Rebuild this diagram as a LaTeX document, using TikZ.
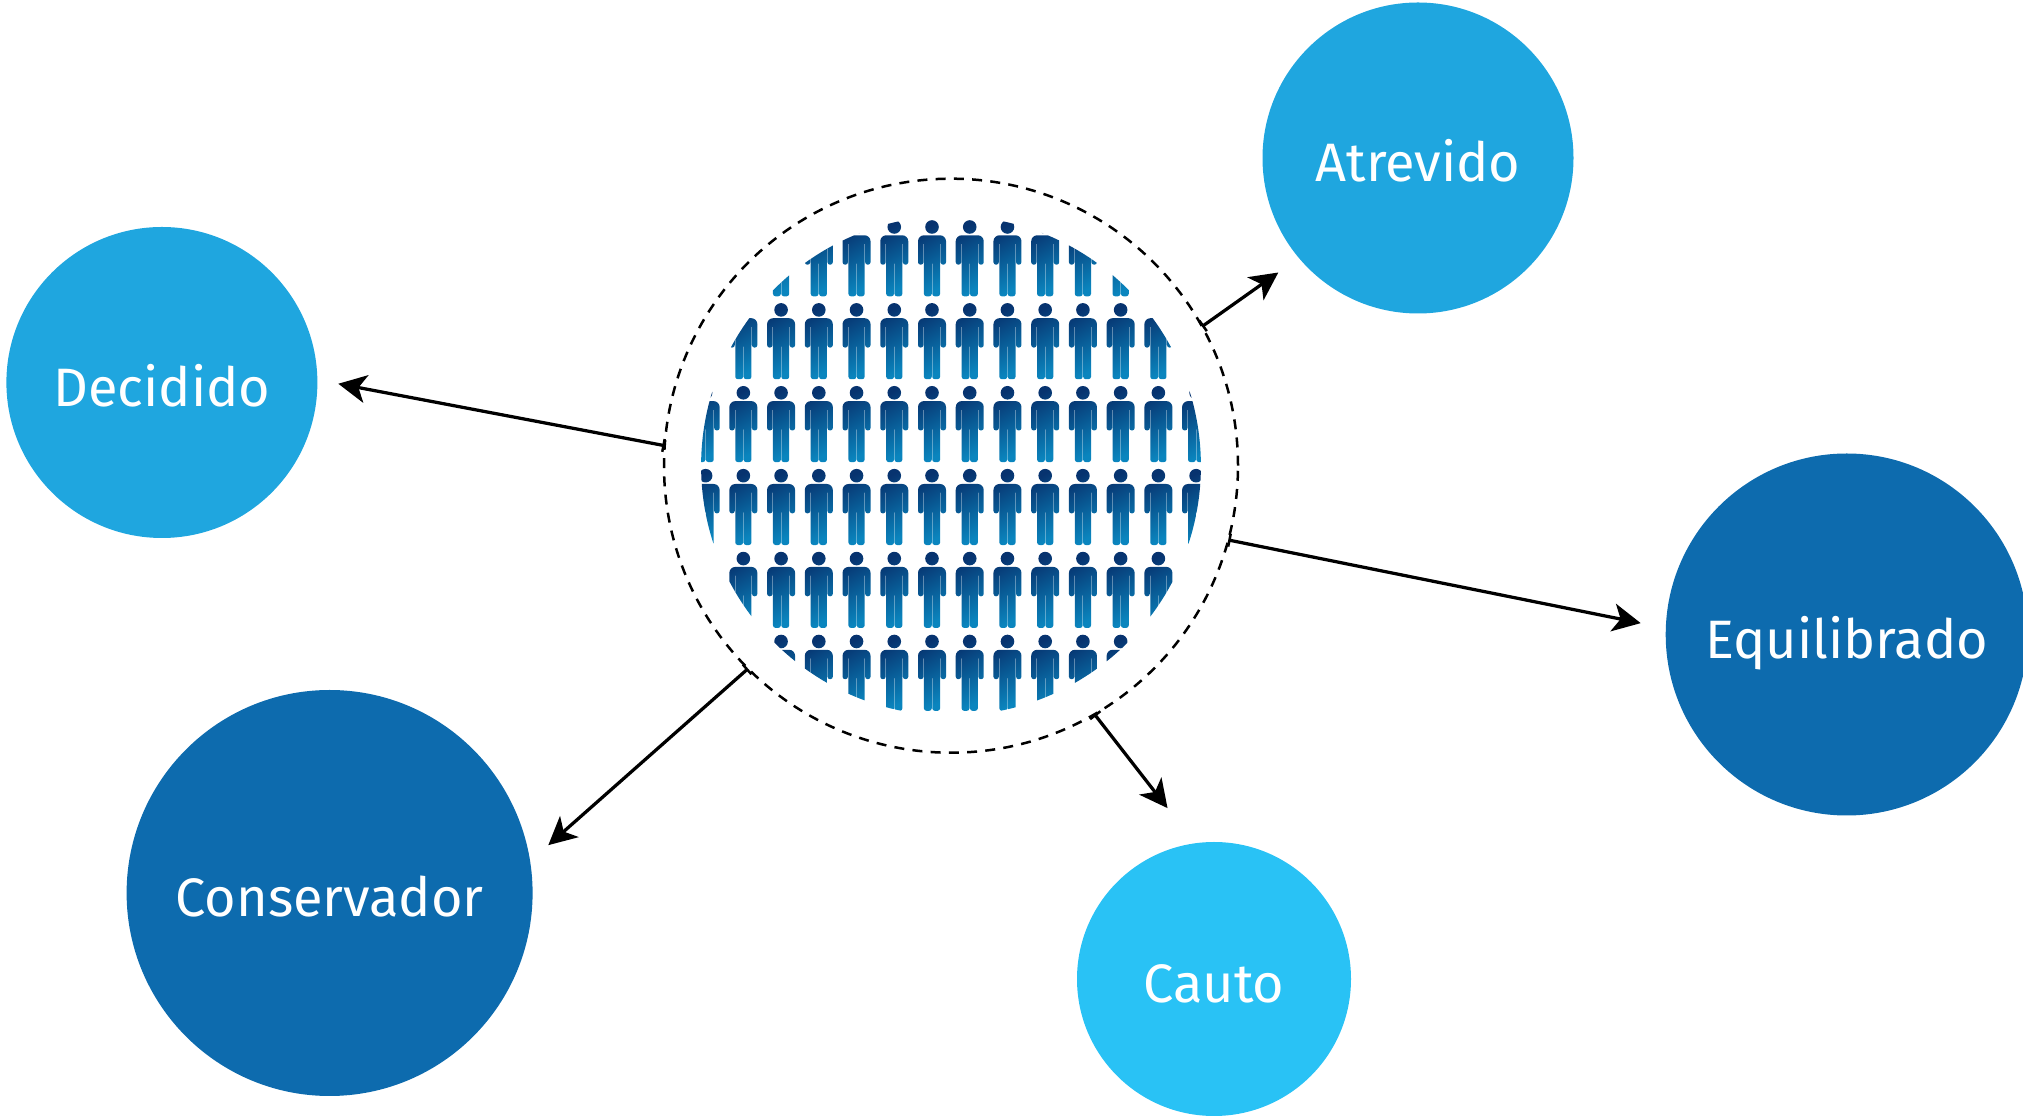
\documentclass[tikz,border=0pt]{standalone}
\usepackage{fontspec}
\setmainfont{Fira Sans}
\usetikzlibrary{arrows.meta}
\definecolor{lightcirc}{HTML}{1FA6DF}
\definecolor{darkcirc}{HTML}{0D6BAE}
\definecolor{paleCirc}{HTML}{29C2F5}
\definecolor{crowddark}{HTML}{07336F}
\definecolor{crowdlight}{HTML}{0A85BE}
\tikzset{
  profile/.style={circle, inner sep=0pt, outer sep=0pt, text=white, text height=.95cm, text depth=0pt, font=\fontsize{30.8}{31}\selectfont},
  link/.style={line width=.065cm, {Bar[width=.26cm,line width=.05cm]}-{Stealth[length=.56cm,width=.56cm,inset=.15cm]}},
  person/.pic={
    \path[shade, top color=crowddark, bottom color=crowdlight, shading angle=30, scale=.02]
      (0,0) circle[radius=6.8]
      (0,-8.3) [rounded corners=.12cm] -- (14,-8.3) [rounded corners=.05cm] -- (14,-37.7) -- (8.6,-37.7) [sharp corners] -- (8.6,-17) -- (8.1,-17)
      [rounded corners=.05cm] -- (8.1,-69.3) -- (.25,-69.3) [sharp corners] -- (.25,-36.7) -- (-.25,-36.7)
      [rounded corners=.05cm] -- (-.25,-69.3) -- (-8.1,-69.3) [sharp corners] -- (-8.1,-17) -- (-8.6,-17)
      [rounded corners=.05cm] -- (-8.6,-37.7) -- (-14,-37.7) [rounded corners=.12cm] -- (-14,-8.3) -- cycle;
  }
}
\begin{document}
\begin{tikzpicture}
  \useasboundingbox (0,0) rectangle (40.46,22.34);
  \begin{scope}
    \clip (19.02,13.024) circle (4.998);
    \foreach \r in {0,...,5}
      \foreach \c in {-6,...,7}
        \pic at ({18.64+.7546*\c},{17.8-1.658*\r}) {person};
  \end{scope}
  \node[circle, draw, dash pattern=on .2cm off .165cm, line width=.05cm, inner sep=0pt, outer sep=0pt, minimum size=11.48cm] (crowd) at (19.02,13.026) {};
  \node[profile, fill=lightcirc, minimum size=6.22cm] (decidido) at (3.238,14.69) {Decidido};
  \node[profile, fill=lightcirc, minimum size=6.22cm] (atrevido) at (28.36,19.18) {Atrevido};
  \node[profile, fill=darkcirc, minimum size=7.24cm] (equilibrado) at (36.934,9.65) {Equilibrado};
  \node[profile, fill=darkcirc, minimum size=8.12cm] (conservador) at (6.592,4.48) {Conservador};
  \node[profile, fill=paleCirc, minimum size=5.48cm] (cauto) at (24.28,2.76) {Cauto};
  \draw[link, shorten >=.426cm] (crowd.176.6) -- (decidido.1.4);
  \draw[link, shorten >=.504cm] (crowd.29.7) -- (atrevido.220);
  \draw[link, shorten >=.512cm] (crowd.-15) -- (equilibrado.178.45);
  \draw[link, shorten >=.486cm] (crowd.225.2) -- (conservador.9.3);
  \draw[link, shorten >=.892cm] (crowd.-60) -- (cauto.98.1);
\end{tikzpicture}
\end{document}
